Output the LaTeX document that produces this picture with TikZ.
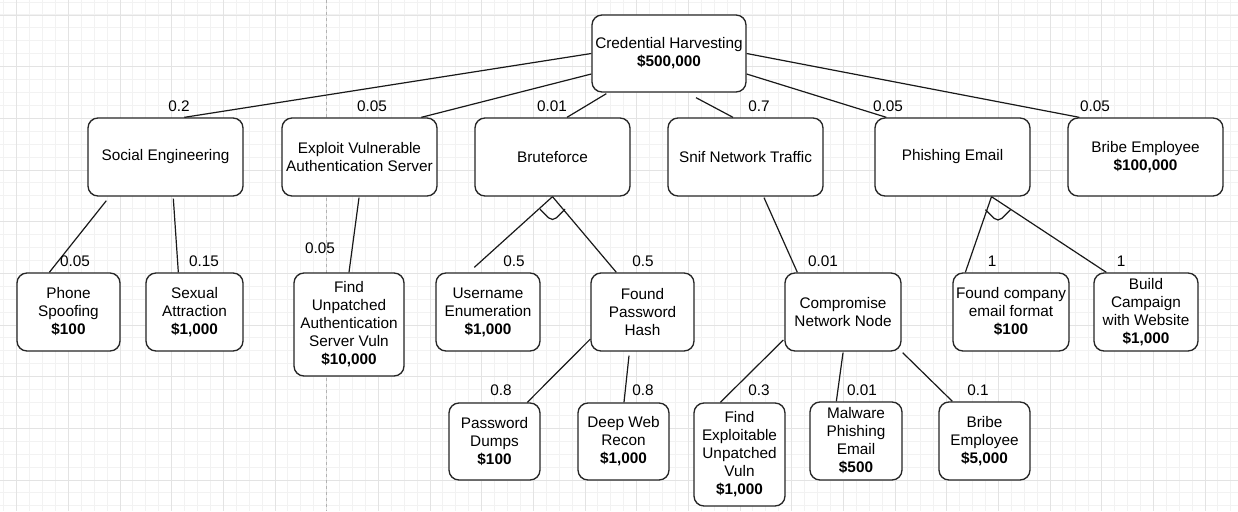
\documentclass[tikz,border=0pt]{standalone}
\usepackage{fontspec}
\setmainfont{Liberation Sans}
\usetikzlibrary{calc}
\begin{document}
\begin{tikzpicture}[x=0.75pt,y=-0.75pt,
  txt/.style={font=\fontsize{11.5}{13.5}\selectfont, text=black},
  box/.style={txt, draw=black!85, line width=1pt, rounded corners=7.5pt, fill=white,
    align=center, inner sep=1pt},
  sz/.style 2 args={minimum width=#1*0.75pt, minimum height=#2*0.75pt},
  lbl/.style={txt, inner sep=0pt},
  edge/.style={draw=black!90, line width=0.9pt},
  minorg/.style={draw=black!5, line width=0.75pt},
  majorg/.style={draw=black!11, line width=0.75pt},
]
% page and background grid
\useasboundingbox (0,0) rectangle (1238,511);
\fill[white] (0,0) rectangle (1238,511);
\foreach \i in {0,...,95}{\draw[minorg] ({3.75+12.9167*\i},0) -- ({3.75+12.9167*\i},511);}
\foreach \i in {0,...,39}{\draw[minorg] (0,{2.08+12.9167*\i}) -- (1238,{2.08+12.9167*\i});}
\foreach \i in {0,...,23}{\draw[majorg] ({16.7+51.667*\i},0) -- ({16.7+51.667*\i},511);}
\foreach \i in {0,...,9}{\draw[majorg] (0,{15+51.667*\i}) -- (1238,{15+51.667*\i});}
\draw[black!30, dash pattern=on 2.25pt off 2.25pt, line width=0.75pt] (326.7,0) -- (326.7,511);

% root
\node[box, sz={154}{77}] (root) at (669,53.5) {Credential Harvesting\\\textbf{\$500,000}};

% first level
\node[box, sz={155}{78}] (se) at (165.5,157) {Social Engineering};
\node[box, sz={155}{78}] (ex) at (359.5,157) {Exploit Vulnerable\\Authentication Server};
\node[box, sz={155}{78}] (bf) at (552.5,157) {Bruteforce};
\node[box, sz={155}{78}] (sn) at (745.5,157) {Snif Network Traffic};
\node[box, sz={155}{78}] (ph) at (952.5,157) {Phishing Email};
\node[box, sz={155}{78}] (br) at (1145.5,157) {Bribe Employee\\\textbf{\$100,000}};

% second level
\node[box, sz={103}{78}] (phone) at (68.5,312) {Phone\\Spoofing\\\textbf{\$100}};
\node[box, sz={97}{78}] (sex) at (194.5,312) {Sexual\\Attraction\\\textbf{\$1,000}};
\node[box, sz={110}{103}] (fa) at (349,324.5) {Find\\Unpatched\\Authentication\\Server Vuln\\\textbf{\$10,000}};
\node[box, sz={104}{78}] (user) at (488,312) {Username\\Enumeration\\\textbf{\$1,000}};
\node[box, sz={103}{78}] (hash) at (642.5,312) {Found\\Password\\Hash};
\node[box, sz={116}{78}] (comp) at (843,312) {Compromise\\Network Node};
\node[box, sz={116}{78}] (mail) at (1011,312) {Found company\\email format\\\textbf{\$100}};
\node[box, sz={104}{78}] (build) at (1146,312) {Build\\Campaign\\with Website\\\textbf{\$1,000}};

% third level
\node[box, sz={91}{77}] (dumps) at (494.5,441.5) {Password\\Dumps\\\textbf{\$100}};
\node[box, sz={91}{77}] (deep) at (623.5,441.5) {Deep Web\\Recon\\\textbf{\$1,000}};
\node[box, sz={91}{103}] (fe) at (739.5,454.5) {Find\\Exploitable\\Unpatched\\Vuln\\\textbf{\$1,000}};
\node[box, sz={92}{78}] (mal) at (856,441) {Malware\\Phishing\\Email\\\textbf{\$500}};
\node[box, sz={91}{78}] (br5) at (984.5,441) {Bribe\\Employee\\\textbf{\$5,000}};

% connectors from the root
\draw[edge] (root.west) -- ($(se.north west)+(97,0)$);
\draw[edge] ($(root.west)+(0,20.5)$) -- ($(ex.north west)+(140,0)$);
\draw[edge] ($(root.south west)+(15,1)$) -- ($(bf.north)+(14.5,0)$);
\draw[edge] ($(root.south)+(27,5)$) -- ($(sn.north)+(-12.5,0)$);
\draw[edge] ($(root.east)+(0,20.5)$) -- ($(ph.north west)+(12,0)$);
\draw[edge] (root.east) -- ($(br.north west)+(12,0)$);

% connectors to the second level
\draw[edge] ($(se.south west)+(19,4)$) -- ($(phone.north west)+(33,0)$);
\draw[edge] ($(se.south west)+(86,2)$) -- ($(sex.north west)+(33,0)$);
\draw[edge] ($(ex.south)+(-0.5,1)$) -- (fa.north);
\draw[edge] (bf.south) -- ($(user.north west)+(39,-5)$);
\draw[edge] (bf.south) -- ($(hash.north west)+(26,0)$);
\draw[edge] ($(sn.south)+(18.5,1)$) -- ($(comp.north west)+(13,0)$);
\draw[edge] ($(ph.south)+(39,0)$) -- ($(mail.north west)+(13,0)$);
\draw[edge] ($(ph.south)+(39,0)$) -- ($(build.north west)+(13,0)$);

% AND gates
\draw[edge, rounded corners=4pt] ($(bf.south)+(-12.5,12.5)$) -- ($(bf.south)+(0,25)$) -- ($(bf.south)+(12.5,12.5)$);
\draw[edge, rounded corners=4pt] ($(ph.south)+(33,13)$) -- ($(ph.south)+(45.5,25.5)$) -- ($(ph.south)+(58,13)$);

% connectors to the third level
\draw[edge] ($(hash.west)+(0,27)$) -- ($(dumps.north west)+(79,0)$);
\draw[edge] ($(hash.south)+(-13.5,4)$) -- ($(deep.north)+(0.5,0)$);
\draw[edge] ($(comp.west)+(-1,28)$) -- ($(fe.north west)+(27,0)$);
\draw[edge] ($(comp.south)+(0,1)$) -- ($(mal.north west)+(27,0)$);
\draw[edge] ($(comp.south east)+(1,1)$) -- ($(br5.north west)+(14,0)$);

% probabilities
\node[lbl] (p1) at (179,106) {0.2};
\node[lbl] (p2) at (372,106) {0.05};
\node[lbl] (p3) at (552,106) {0.01};
\node[lbl] (p4) at (759,106) {0.7};
\node[lbl] (p5) at (888,106) {0.05};
\node[lbl] (p6) at (1095,106) {0.05};
\node[lbl] (q1) at (75,261) {0.05};
\node[lbl] (q2) at (204,261) {0.15};
\node[lbl] (q3) at (320,248) {0.05};
\node[lbl] (q4) at (514,261) {0.5};
\node[lbl] (q5) at (643,261) {0.5};
\node[lbl] (q6) at (823,261) {0.01};
\node[lbl] (q7) at (992,261) {1};
\node[lbl] (q8) at (1121,261) {1};
\node[lbl] (r1) at (501,390) {0.8};
\node[lbl] (r2) at (643,390) {0.8};
\node[lbl] (r3) at (759,390) {0.3};
\node[lbl] (r4) at (862,390) {0.01};
\node[lbl] (r5) at (978,390) {0.1};
\end{tikzpicture}
\end{document}
